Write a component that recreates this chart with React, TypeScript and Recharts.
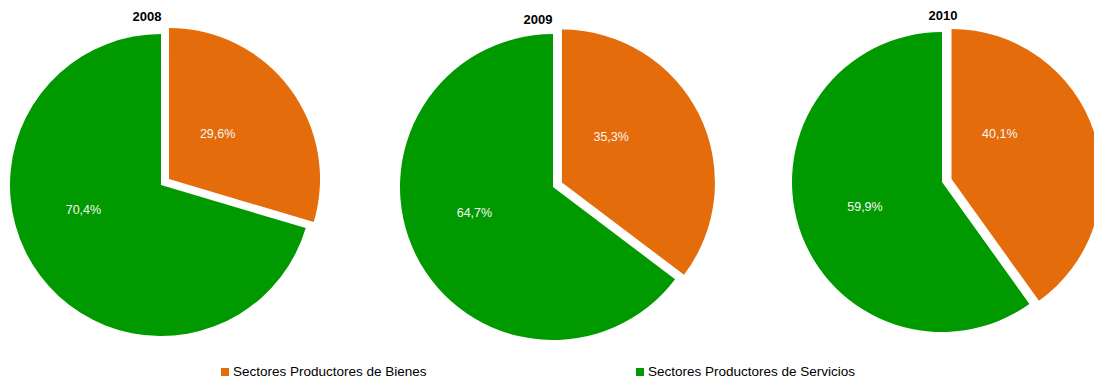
import React from "react";
import { PieChart, Pie, Cell, Legend } from "recharts";

// datos
const years = ["2008", "2009", "2010"];
const categories = ["Sectores Productores de Bienes", "Sectores Productores de Servicios"];
const bienes = [29.6, 35.3, 40.1];
const servicios = [70.4, 64.7, 59.9];

const colors = ["#E46C0A", "#009900"];
const FONT = "'Liberation Sans', Arial, sans-serif";

// layout of each pie (centre, radius, title)
const pies = [
  { cx: 161, cy: 185, r: 151, titleX: 147, titleY: 21 },
  { cx: 553, cy: 187, r: 153, titleX: 538, titleY: 24 },
  { cx: 942, cy: 182, r: 150, titleX: 943, titleY: 20 },
];
const EXPLODE = 10;
// where excel ends up placing the data labels (clockwise from top, fraction of radius)
const LABEL_ANGLE = [47, 252];
const LABEL_DIST = [0.44, 0.54];

const fmt = (v: number) => v.toFixed(1).replace(".", ",") + "%";

const makeLabel = (only: number) => (props: any) => {
  const { cx, cy, outerRadius, index, value } = props;
  if (index !== only) return null;
  const a = (LABEL_ANGLE[index] * Math.PI) / 180;
  const d = outerRadius * LABEL_DIST[index];
  return (
    <text
      x={cx + d * Math.sin(a)}
      y={cy - d * Math.cos(a)}
      fill="#F7F7F7"
      fontSize={12.5}
      fontFamily={FONT}
      textAnchor="middle"
      dominantBaseline="central"
    >
      {fmt(value)}
    </text>
  );
};

const LegendContent = () => (
  <div style={{ position: "relative", height: 18, fontFamily: FONT, fontSize: 13.5, lineHeight: "18px", color: "#000" }}>
    {categories.map((c, i) => (
      <div
        key={c}
        style={{ position: "absolute", left: i === 0 ? 221 : 636, top: 0, display: "flex", alignItems: "center", whiteSpace: "nowrap" }}
      >
        <span style={{ display: "inline-block", width: 8, height: 8, background: colors[i], marginRight: 4 }} />
        <span>{c}</span>
      </div>
    ))}
  </div>
);

export default function App() {
  return (
    <div style={{ position: "absolute", left: 0, top: 0, width: 1094, height: 381, background: "#fff" }}>
      <PieChart width={1094} height={381} margin={{ top: 0, right: 0, bottom: 0, left: 0 }}>
        {years.map((y, i) => {
          const p = pies[i];
          const data = [
            { name: categories[0], value: bienes[i] },
            { name: categories[1], value: servicios[i] },
          ];
          const share = bienes[i] / (bienes[i] + servicios[i]);
          const mid = share * Math.PI; // mid angle of the orange slice, clockwise from top
          const ex = p.cx + EXPLODE * Math.sin(mid);
          const ey = p.cy - EXPLODE * Math.cos(mid);
          return [
            <Pie
              key={y + "-s"}
              data={data}
              dataKey="value"
              cx={p.cx}
              cy={p.cy}
              outerRadius={p.r}
              startAngle={90}
              endAngle={-270}
              stroke="none"
              isAnimationActive={false}
              labelLine={false}
              label={makeLabel(1)}
            >
              <Cell fill="none" />
              <Cell fill={colors[1]} />
            </Pie>,
            <Pie
              key={y + "-b"}
              data={data}
              dataKey="value"
              cx={ex}
              cy={ey}
              outerRadius={p.r}
              startAngle={90}
              endAngle={-270}
              stroke="none"
              isAnimationActive={false}
              labelLine={false}
              label={makeLabel(0)}
            >
              <Cell fill={colors[0]} />
              <Cell fill="none" />
            </Pie>,
          ];
        })}
        {years.map((y, i) => (
          <text
            key={"t" + y}
            x={pies[i].titleX}
            y={pies[i].titleY}
            textAnchor="middle"
            fontFamily={FONT}
            fontSize={13}
            fontWeight="bold"
            fill="#000"
          >
            {y}
          </text>
        ))}
        <Legend content={<LegendContent />} wrapperStyle={{ left: 0, top: 363, bottom: "auto", width: 1094, height: 18 }} />
      </PieChart>
    </div>
  );
}
